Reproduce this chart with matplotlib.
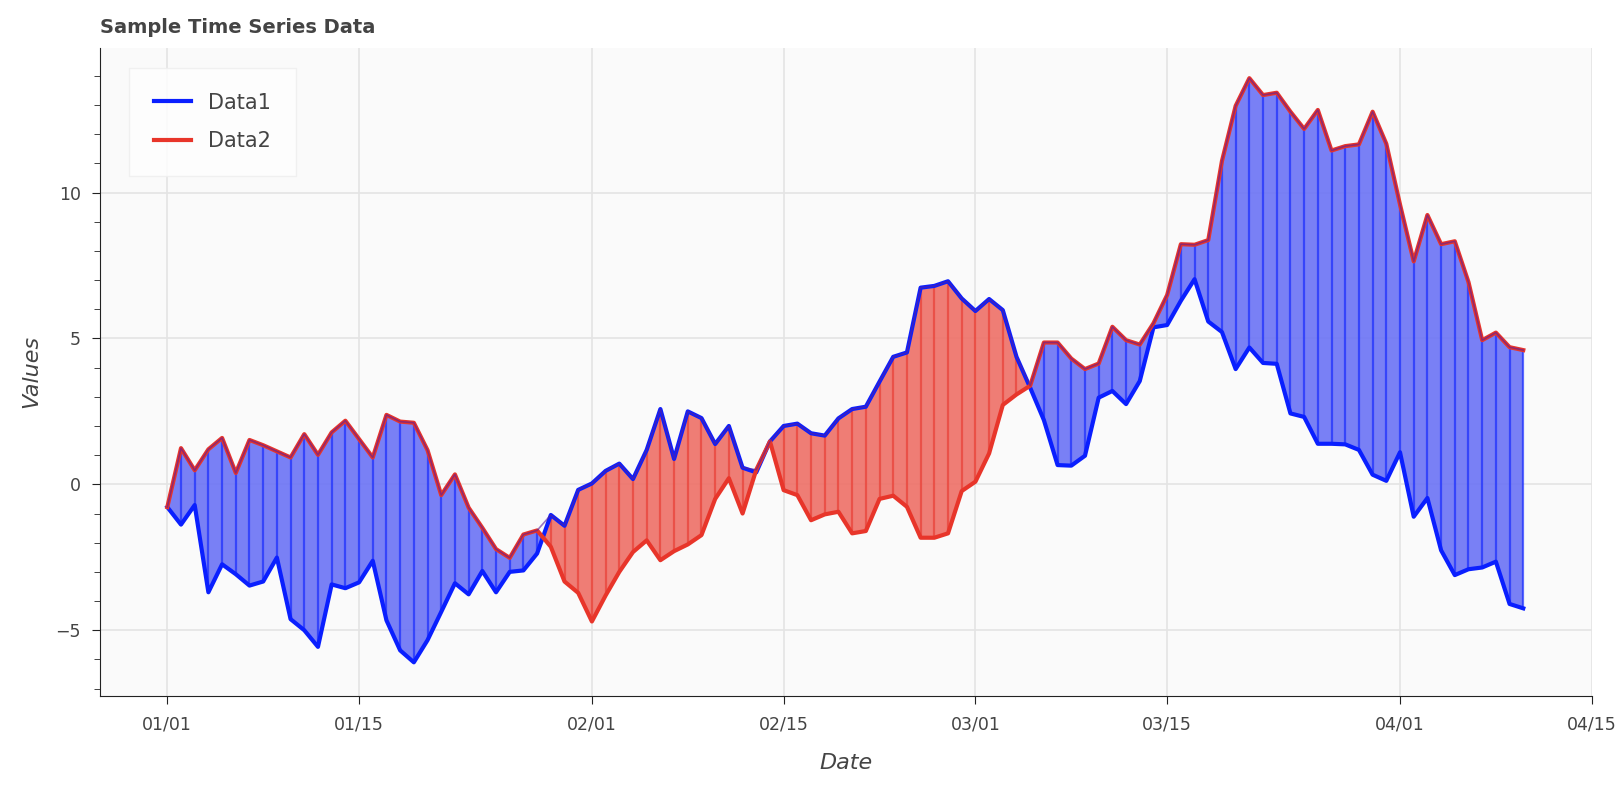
import numpy as np
import pandas as pd
import matplotlib
matplotlib.use("Agg")
import matplotlib.pyplot as plt
import matplotlib.dates as mdates
from matplotlib.ticker import MultipleLocator

# Daily values, 2023-01-01 .. 2023-04-10
dates = pd.date_range("2023-01-01", periods=100, freq="D")

data1 = [
    -0.78, -1.38, -0.71, -3.70, -2.74, -3.08, -3.47, -3.33, -2.51, -4.62,
    -5.00, -5.57, -3.43, -3.56, -3.36, -2.62, -4.66, -5.69, -6.10, -5.34,
    -4.37, -3.39, -3.77, -2.97, -3.70, -3.00, -2.95, -2.37, -1.05, -1.42,
    -0.19, 0.03, 0.46, 0.71, 0.18, 1.18, 2.58, 0.87, 2.50, 2.27,
    1.38, 2.00, 0.57, 0.41, 1.47, 2.00, 2.08, 1.75, 1.67, 2.26,
    2.58, 2.66, 3.52, 4.37, 4.52, 6.74, 6.80, 6.96, 6.37, 5.94,
    6.35, 5.97, 4.37, 3.31, 2.20, 0.66, 0.64, 0.98, 2.97, 3.20,
    2.75, 3.54, 5.38, 5.46, 6.29, 7.03, 5.58, 5.22, 3.95, 4.69,
    4.16, 4.13, 2.43, 2.31, 1.39, 1.39, 1.37, 1.18, 0.33, 0.12,
    1.10, -1.11, -0.47, -2.26, -3.11, -2.91, -2.85, -2.65, -4.10, -4.25,
]

data2 = [
    -0.78, 1.24, 0.48, 1.20, 1.59, 0.39, 1.52, 1.34, 1.13, 0.92,
    1.72, 1.01, 1.78, 2.18, 1.55, 0.92, 2.38, 2.15, 2.11, 1.17,
    -0.37, 0.34, -0.80, -1.49, -2.22, -2.52, -1.72, -1.58, -2.14, -3.33,
    -3.72, -4.70, -3.81, -3.00, -2.32, -1.92, -2.60, -2.29, -2.06, -1.74,
    -0.50, 0.21, -1.00, 0.50, 1.47, -0.20, -0.37, -1.23, -1.03, -0.94,
    -1.68, -1.60, -0.50, -0.39, -0.77, -1.83, -1.83, -1.68, -0.23, 0.09,
    1.06, 2.72, 3.08, 3.38, 4.86, 4.86, 4.31, 3.95, 4.14, 5.40,
    4.94, 4.79, 5.52, 6.49, 8.23, 8.21, 8.37, 11.08, 12.97, 13.92,
    13.34, 13.42, 12.77, 12.18, 12.83, 11.44, 11.59, 11.65, 12.77, 11.67,
    9.59, 7.64, 9.23, 8.23, 8.33, 6.93, 4.94, 5.20, 4.70, 4.60,
]

BLUE = "#0a1fff"
RED = "#e8352a"
FILL_BLUE = "#6b73f5"
FILL_RED = "#ee6f67"

x = mdates.date2num(dates)
y1 = np.array(data1)
y2 = np.array(data2)

fig = plt.figure(figsize=(16.16, 7.92), dpi=100)
ax = fig.add_axes([0.062, 0.121, 0.923, 0.819])
ax.set_facecolor("#fafafa")

up = y2 >= y1
ax.fill_between(x, y1, y2, where=up, interpolate=True, color=FILL_BLUE, alpha=0.9, lw=0, zorder=2)
ax.fill_between(x, y1, y2, where=~up, interpolate=True, color=FILL_RED, alpha=0.9, lw=0, zorder=2)

# vertical segments at every sample
ax.vlines(x[up], y1[up], y2[up], color=BLUE, lw=1.6, alpha=0.6, zorder=3)
ax.vlines(x[~up], y1[~up], y2[~up], color=RED, lw=1.6, alpha=0.6, zorder=3)

ax.plot(x, y1, color=BLUE, lw=3, label="Data1", zorder=4)
ax.plot(x, y2, color=RED, lw=3, label="Data2", zorder=4)
# upper edge darkening like the reference
upper = np.maximum(y1, y2)
ax.plot(x, upper, color="#5a1f9a", lw=1.2, alpha=0.6, zorder=5)

ax.set_xlim(x[0] - 4.9, x[0] + 104.0)
ax.set_ylim(-7.26, 14.97)

ax.xaxis.set_major_locator(mdates.DayLocator(bymonthday=[1, 15]))
ax.xaxis.set_major_formatter(mdates.DateFormatter("%m/%d"))
ax.yaxis.set_major_locator(MultipleLocator(5))
ax.yaxis.set_minor_locator(MultipleLocator(1))

ax.grid(True, color="#e4e4e4", lw=1.2, zorder=0)
ax.set_axisbelow(True)
for s in ["top", "right"]:
    ax.spines[s].set_visible(False)
for s in ["left", "bottom"]:
    ax.spines[s].set_color("#222222")
ax.tick_params(axis="both", which="major", direction="out", length=6, labelsize=12.5,
               colors="#222222", labelcolor="#444444", pad=8)
ax.tick_params(axis="y", which="minor", direction="out", length=4, colors="#222222")

ax.set_xlabel("Date", fontsize=16, style="italic", color="#444444", labelpad=14)
ax.set_ylabel("Values", fontsize=16, style="italic", color="#444444", labelpad=10)
fig.text(0.062, 0.965, "Sample Time Series Data", fontsize=14, fontweight="bold",
         color="#444444", va="center", ha="left")

leg = ax.legend(loc="upper left", fontsize=15, frameon=True, fancybox=False,
                borderpad=1.2, handlelength=1.8, labelspacing=0.9,
                bbox_to_anchor=(0.012, 0.985))
leg.get_frame().set_edgecolor("#eeeeee")
leg.get_frame().set_facecolor("white")
for t in leg.get_texts():
    t.set_color("#444444")

fig.savefig("out.png", dpi=100)
